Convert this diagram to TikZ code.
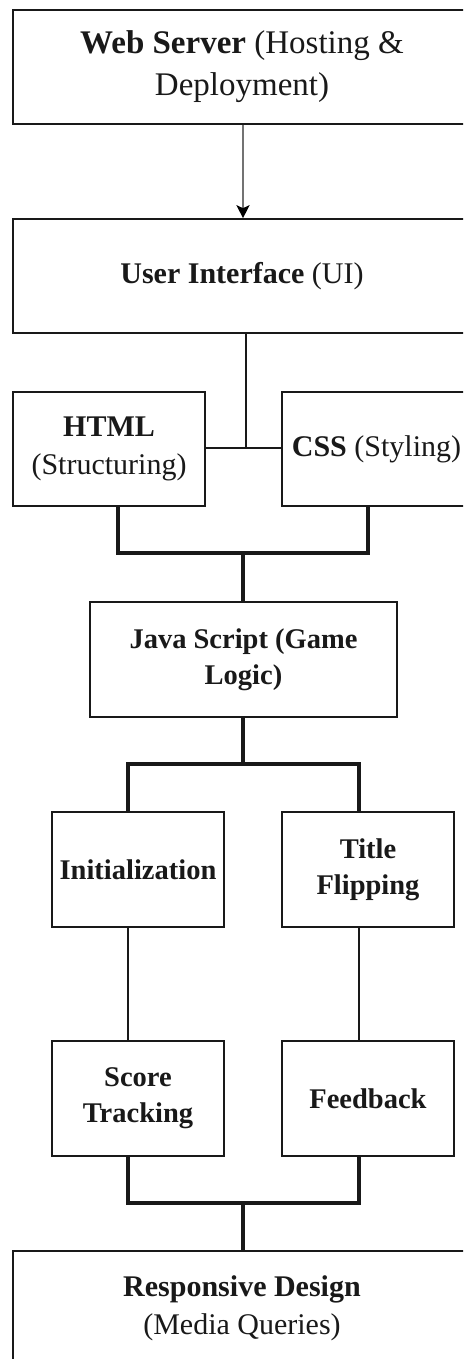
\documentclass[tikz,border=0pt]{standalone}
\usepackage{fontspec}
\setmainfont{Liberation Serif}
\usetikzlibrary{arrows.meta}
\begin{document}
\begin{tikzpicture}[x=1pt,y=-1pt,
  box/.style={draw=black!90, line width=1.6pt, fill=white, inner sep=0pt, align=center, text=black!90},
  big/.style={font=\fontsize{33}{42}\selectfont},
  mid/.style={font=\fontsize{30}{38}\selectfont},
  sml/.style={font=\fontsize{28.5}{36}\selectfont},
  thin/.style={draw=black!90, line width=1.5pt},
  thickc/.style={draw=black!90, line width=3.6pt, line join=miter},
  arr/.style={draw=black!55, line width=2pt, -{Stealth[length=13pt,width=13pt,inset=3pt,color=black]}}
]
\useasboundingbox (0,0) rectangle (463,1359);
\fill[white] (0,0) rectangle (463,1359);
\clip (0,0) rectangle (463,1359);

\node[box,big,minimum width=458pt,minimum height=114pt] (ws) at (242,67)
  {\textbf{Web Server} (Hosting \&\\Deployment)};
\node[box,mid,minimum width=458pt,minimum height=114pt] (ui) at (242,276)
  {\textbf{User Interface} (UI)};
\node[box,mid,minimum width=192pt,minimum height=114pt] (html) at (109,449)
  {\textbf{HTML}\\(Structuring)};
\node[box,mid,minimum width=189pt,minimum height=114pt] (css) at (376.5,449)
  {\textbf{CSS} (Styling)};
\node[box,sml,minimum width=307pt,minimum height=115pt] (js) at (243.5,659.5)
  {\textbf{Java Script (Game}\\\textbf{Logic)}};
\node[box,sml,minimum width=172pt,minimum height=115pt] (init) at (138,869.5)
  {\textbf{Initialization}};
\node[box,sml,minimum width=172pt,minimum height=115pt] (title) at (368,869.5)
  {\textbf{Title}\\\textbf{Flipping}};
\node[box,sml,minimum width=172pt,minimum height=115pt] (score) at (138,1098.5)
  {\textbf{Score}\\\textbf{Tracking}};
\node[box,sml,minimum width=172pt,minimum height=115pt] (fb) at (368,1098.5)
  {\textbf{Feedback}};
\node[box,mid,minimum width=458pt,minimum height=115pt] (rd) at (242,1308.5)
  {\textbf{Responsive Design}\\(Media Queries)};

\coordinate (j1) at (246,448);
\coordinate (b1) at (243,553);
\coordinate (b2) at (243,764);
\coordinate (b3) at (243,1203);

\draw[arr] (ws.south -| 243,0) -- (ui.north -| 243,0);
\draw[thin] (ui.south -| j1) -- (j1);
\draw[thin] (html.east |- j1) -- (css.west |- j1);
\draw[thickc] (html.south -| 118,0) |- (b1) -| (css.south -| 368,0);
\draw[thickc] (b1) -- (js.north -| b1);
\draw[thickc] (js.south -| b2) -- (b2);
\draw[thickc] (init.north -| 128,0) |- (b2) -| (title.north -| 359,0);
\draw[thin] (init.south -| 128,0) -- (score.north -| 128,0);
\draw[thin] (title.south -| 359,0) -- (fb.north -| 359,0);
\draw[thickc] (score.south -| 128,0) |- (b3) -| (fb.south -| 359,0);
\draw[thickc] (b3) -- (rd.north -| b3);
\end{tikzpicture}
\end{document}
